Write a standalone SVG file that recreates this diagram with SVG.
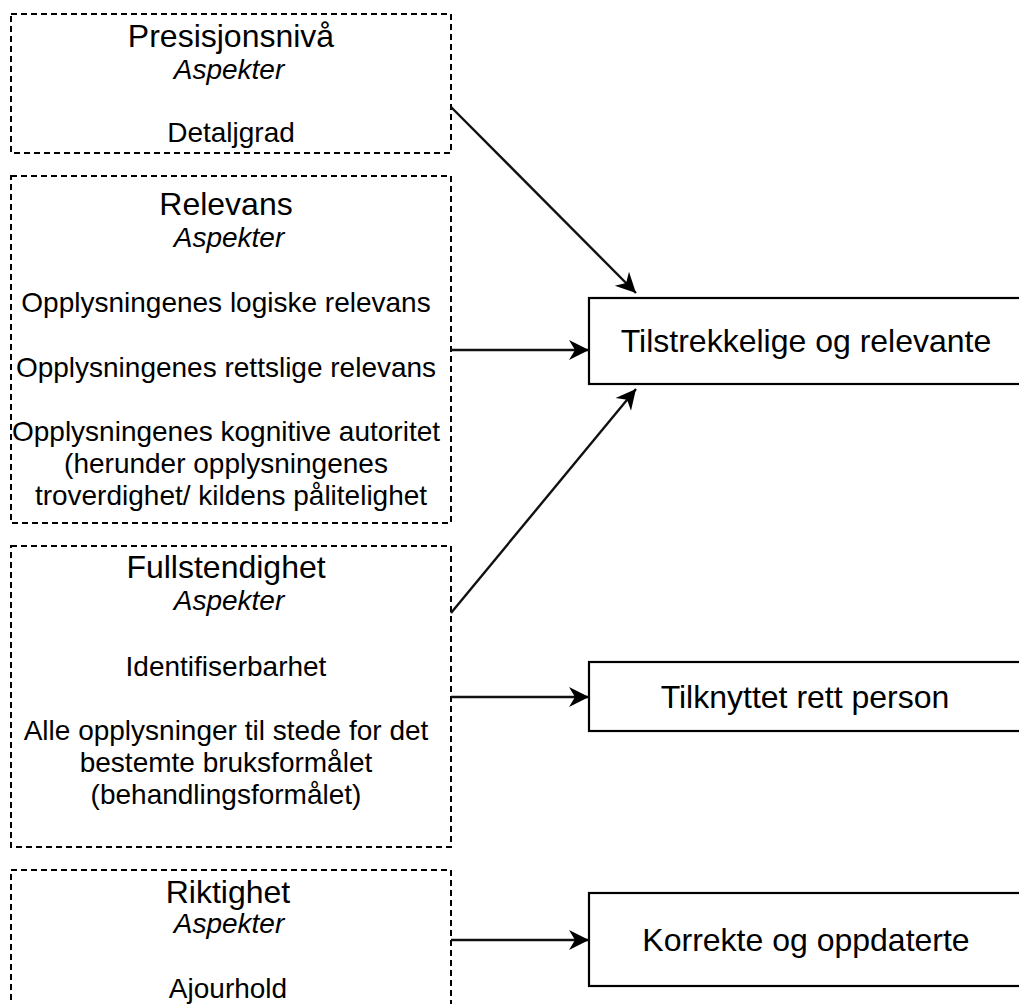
<svg xmlns="http://www.w3.org/2000/svg" width="1019" height="1004" viewBox="0 0 1019 1004">
  <style>
    .aspect { fill: #fff; stroke: #000; stroke-width: 2; stroke-dasharray: 6 4; }
    .goal { fill: #fff; stroke: #000; stroke-width: 2.2; }
    text { font-family: "Liberation Sans", Arial, Helvetica, sans-serif; fill: #000; text-anchor: middle; }
    .title { font-size: 32px; }
    .sub { font-size: 28px; font-style: italic; }
    .item { font-size: 28px; }
    .goal-label { font-size: 32px; }
    .edge { fill: none; stroke: #111; stroke-width: 2.4; }
  </style>
  <defs>
    <marker id="arrow" markerUnits="userSpaceOnUse" viewBox="-21 -11 22 22" refX="0" refY="0" markerWidth="22" markerHeight="22" orient="auto">
      <path d="M0,0 L-20,-10 L-14,0 L-20,10 Z" fill="#000"/>
    </marker>
  </defs>

  <rect width="1019" height="1004" fill="#fff"/>

  <!-- Aspect groups (dashed) -->
  <g id="presisjonsniva">
    <rect class="aspect" x="11" y="14" width="440" height="139"/>
    <text class="title" x="231" y="47">Presisjonsnivå</text>
    <text class="sub" x="229" y="79">Aspekter</text>
    <text class="item" x="231" y="142">Detaljgrad</text>
  </g>

  <g id="relevans">
    <rect class="aspect" x="11" y="176" width="440" height="347"/>
    <text class="title" x="226" y="215">Relevans</text>
    <text class="sub" x="229" y="247">Aspekter</text>
    <text class="item" x="226" y="312">Opplysningenes logiske relevans</text>
    <text class="item" x="226" y="377">Opplysningenes rettslige relevans</text>
    <text class="item" x="226" y="441">Opplysningenes kognitive autoritet</text>
    <text class="item" x="226" y="473">(herunder opplysningenes</text>
    <text class="item" x="231" y="505">troverdighet/ kildens pålitelighet</text>
  </g>

  <g id="fullstendighet">
    <rect class="aspect" x="11" y="546" width="440" height="301"/>
    <text class="title" x="226" y="578">Fullstendighet</text>
    <text class="sub" x="229" y="610">Aspekter</text>
    <text class="item" x="226" y="676">Identifiserbarhet</text>
    <text class="item" x="226" y="740">Alle opplysninger til stede for det</text>
    <text class="item" x="226" y="772">bestemte bruksformålet</text>
    <text class="item" x="226" y="804">(behandlingsformålet)</text>
  </g>

  <g id="riktighet">
    <rect class="aspect" x="11" y="870" width="440" height="170"/>
    <text class="title" x="228" y="903">Riktighet</text>
    <text class="sub" x="229" y="933">Aspekter</text>
    <text class="item" x="228" y="998">Ajourhold</text>
  </g>

  <!-- Quality requirements -->
  <g id="tilstrekkelige">
    <rect class="goal" x="589" y="298" width="440" height="86"/>
    <text class="goal-label" x="806" y="352">Tilstrekkelige og relevante</text>
  </g>

  <g id="tilknyttet">
    <rect class="goal" x="589" y="662" width="440" height="69"/>
    <text class="goal-label" x="805" y="708">Tilknyttet rett person</text>
  </g>

  <g id="korrekte">
    <rect class="goal" x="589" y="893" width="440" height="93"/>
    <text class="goal-label" x="806" y="951">Korrekte og oppdaterte</text>
  </g>

  <!-- Connectors -->
  <g id="connectors">
    <path class="edge" d="M451,107 L636,293" marker-end="url(#arrow)"/>
    <path class="edge" d="M451,350 L589,350" marker-end="url(#arrow)"/>
    <path class="edge" d="M451,613 L636,389" marker-end="url(#arrow)"/>
    <path class="edge" d="M451,697 L589,697" marker-end="url(#arrow)"/>
    <path class="edge" d="M451,940 L589,940" marker-end="url(#arrow)"/>
  </g>
</svg>
